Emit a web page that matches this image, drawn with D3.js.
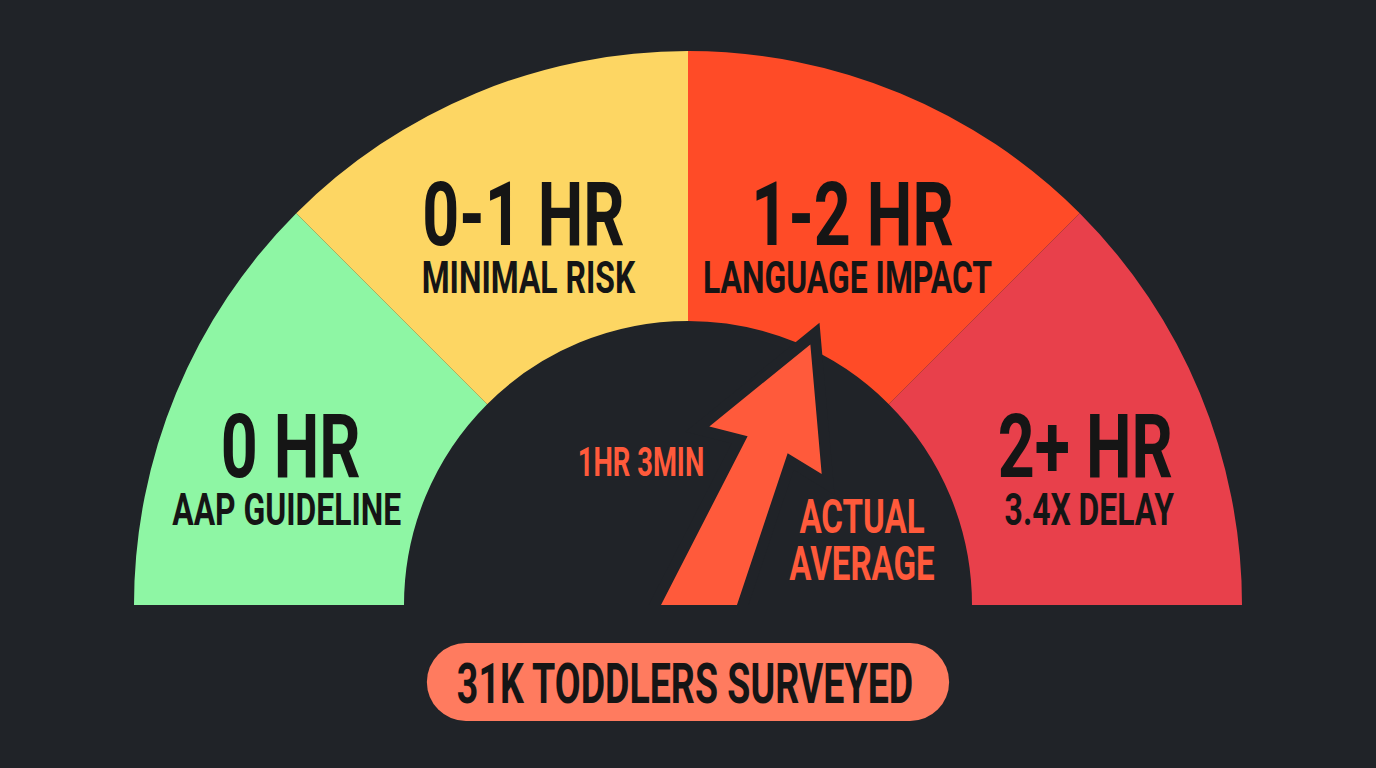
<!DOCTYPE html>
<html><head><meta charset="utf-8">
<script src="https://cdn.jsdelivr.net/npm/d3@7"></script>
<style>html,body{margin:0;padding:0;background:#202328;overflow:hidden}</style>
</head><body><svg id="chart" width="1376" height="768"></svg>
<script>
// ---- data ----
const categories = ["0 HR", "0-1 HR", "1-2 HR", "2+ HR"];
const descriptions = ["AAP GUIDELINE", "MINIMAL RISK", "LANGUAGE IMPACT", "3.4X DELAY"];
const segmentShares = [1, 1, 1, 1];
const scaleDomain = [-1, 3];            // hour scale: "0 HR" band spans -1..0, "0-1" 0..1, "1-2" 1..2, "2+" 2..3
const pointerPosition = 1.51;           // where the arrow points on that scale, as drawn
const pointerLabel = "1HR 3MIN";
const pointerCaption = ["ACTUAL", "AVERAGE"];
const footnote = "31K TODDLERS SURVEYED";

// ---- styles / layout ----
const W = 1376, H = 768;
const cx = 688, cy = 605, rInner = 284, rOuter = 554;
const colors = ["#8ef6a4", "#fdd663", "#ff4b27", "#e8404b"];
const bg = "#202328", ink = "#151515", accent = "#ff5a3b", pillFill = "#ff7b5f";
const FONT = "Roboto, 'Open Sans', sans-serif";

const svg = d3.select("#chart");
svg.append("rect").attr("width", W).attr("height", H).attr("fill", bg);

const angle = d3.scaleLinear().domain(scaleDomain).range([-Math.PI / 2, Math.PI / 2]);

const pie = d3.pie().sort(null).value(d => d)
  .startAngle(angle(scaleDomain[0])).endAngle(angle(scaleDomain[1]));
const arcs = pie(segmentShares);
const arc = d3.arc().innerRadius(rInner).outerRadius(rOuter);

const g = svg.append("g").attr("transform", `translate(${cx},${cy})`);
g.selectAll("path.seg").data(arcs).join("path")
  .attr("class", "seg").attr("d", arc).attr("fill", (d, i) => colors[i]);

// condensed text helper
function ctext(parent, x, y, str, size, fill, sx) {
  return parent.append("text")
    .attr("transform", `translate(${x},${y}) scale(${sx},1)`)
    .attr("text-anchor", "middle")
    .attr("font-family", FONT).attr("font-weight", 700)
    .attr("font-size", size).attr("fill", fill).text(str);
}
// two-line condensed label in one text element
function ctext2(parent, x, y, lines, sizes, dy2, dx2, fill, sx) {
  const t = parent.append("text")
    .attr("transform", `translate(${x},${y}) scale(${sx},1)`)
    .attr("text-anchor", "middle")
    .attr("font-family", FONT).attr("font-weight", 700).attr("fill", fill);
  t.append("tspan").attr("x", 0).attr("y", 0).attr("font-size", sizes[0]).text(lines[0]);
  t.append("tspan").attr("x", dx2 / sx).attr("y", dy2).attr("font-size", sizes[1]).text(lines[1]);
  return t;
}

// segment labels
const labelR = 430;
const subDx = [-4, 5, -5, 4];
arcs.forEach((d, i) => {
  const a = (d.startAngle + d.endAngle) / 2;
  const x = labelR * Math.sin(a), y = -labelR * Math.cos(a);
  ctext2(g, x, y + 37, [categories[i], descriptions[i]], [89, 44], 48, subDx[i], ink, 0.725);
});

// arrow pointer (local frame: a = along, p = across)
const th = angle(pointerPosition);
const base = [cx + 12, cy];
const ux = Math.sin(th), uy = -Math.cos(th), nx = Math.cos(th), ny = Math.sin(th);
const local = [[-30, -37], [174, -22], [168, -61], [283, 0], [168, 61], [174, 21.5], [-30, 37.5]];
const pts = local.map(([a, p]) => [base[0] + a * ux + p * nx, base[1] + a * uy + p * ny]);
svg.append("clipPath").attr("id", "clipBase").append("rect")
  .attr("x", 0).attr("y", 0).attr("width", W).attr("height", cy);
svg.append("path")
  .attr("d", d3.line()(pts) + "Z")
  .attr("clip-path", "url(#clipBase)")
  .attr("fill", accent).attr("stroke", bg).attr("stroke-width", 22)
  .attr("stroke-linejoin", "miter").attr("stroke-miterlimit", 10)
  .attr("paint-order", "stroke");

// pointer labels
ctext(svg, 641, 476, pointerLabel, 40, accent, 0.685);
ctext2(svg, 862, 533, pointerCaption, [49, 49], 47, 0, accent, 0.675);

// footnote pill
const pillG = svg.append("g");
const ph = 78, pcy = 682, fsx = 0.67;
const rect = pillG.append("rect").attr("fill", pillFill);
const ft = ctext(pillG, cx - 3, 703, footnote, 56, ink, fsx);
const tw = ft.node().getBBox().width * fsx;
const pw = tw + 66;
rect.attr("x", cx - pw / 2).attr("y", pcy - ph / 2).attr("width", pw).attr("height", ph)
  .attr("rx", ph / 2);
</script></body></html>
